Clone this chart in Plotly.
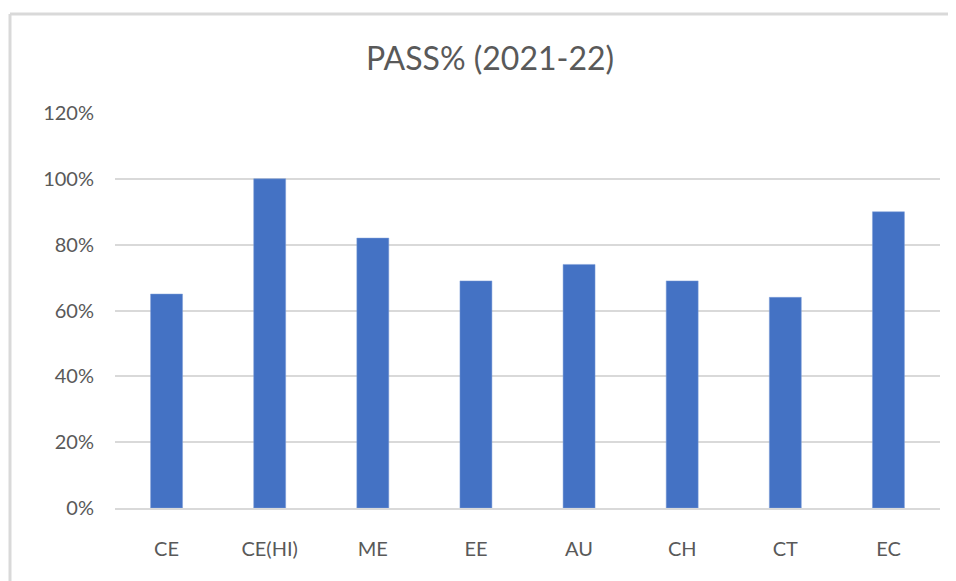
import plotly.graph_objects as go

categories = ["CE", "CE(HI)", "ME", "EE", "AU", "CH", "CT", "EC"]
pass_pct = [0.65, 1.00, 0.82, 0.69, 0.74, 0.69, 0.64, 0.90]
y_ticks = [0, 0.2, 0.4, 0.6, 0.8, 1.0, 1.2]
y_tick_labels = ["0%", "20%", "40%", "60%", "80%", "100%", "120%"]

# page body has an 8px margin, so the figure is sized/offset accordingly
OFF = 8
W, H = 956 - OFF, 581 - OFF
L, R, T, B = 115 - OFF, 16, 113 - OFF, 73
pw, ph = W - L - R, H - T - B

fig = go.Figure(go.Bar(
    x=categories, y=pass_pct,
    marker=dict(color="#4472C4", line=dict(color="#7F9FD8", width=0.5)),
    width=0.31,
))

font_family = "Lato, 'Open Sans', sans-serif"
fig.update_layout(
    width=W, height=H,
    margin=dict(l=L, r=R, t=T, b=B, pad=0),
    paper_bgcolor="white", plot_bgcolor="white",
    showlegend=False,
    font=dict(family=font_family, color="#595959", size=20),
    title=dict(text="PASS% (2021-22)", x=(490 - OFF) / W, xanchor="center",
               y=1 - (59 - OFF) / H, yanchor="middle",
               font=dict(size=32, color="#595959", family=font_family)),
    xaxis=dict(showgrid=False, showline=True, linecolor="#D9D9D9", linewidth=2,
               ticks="", ticklabelstandoff=22, tickfont=dict(size=20),
               range=[-0.5, 7.5]),
    yaxis=dict(range=[0, 1.2], tickvals=y_ticks, ticktext=y_tick_labels,
               showgrid=True, gridcolor="#D9D9D9", gridwidth=2,
               zeroline=False, showline=False, ticks="",
               ticklabelstandoff=20, tickfont=dict(size=20)),
    shapes=[
        dict(type="line", xref="paper", yref="paper",
             x0=(10 - 115) / pw, x1=(960 - 115) / pw,
             y0=(508 - 14) / ph, y1=(508 - 14) / ph,
             line=dict(color="#D9D9D9", width=3)),
        dict(type="line", xref="paper", yref="paper",
             x0=(10 - 115) / pw, x1=(10 - 115) / pw,
             y0=(508 - 14) / ph, y1=(508 - 590) / ph,
             line=dict(color="#D9D9D9", width=3)),
    ],
)

fig.write_html("out.html")
